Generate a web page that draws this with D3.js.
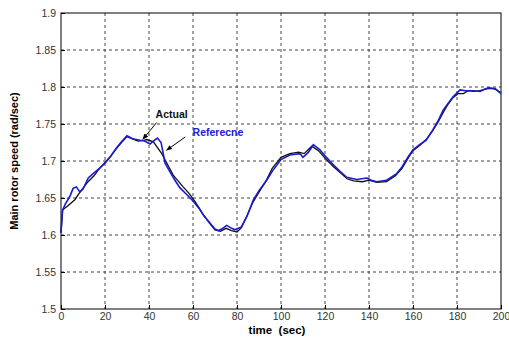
<!DOCTYPE html>
<html>
<head>
<meta charset="utf-8">
<script src="https://cdn.jsdelivr.net/npm/d3@7"></script>
<style>
  body { margin: 0; background: #fff; }
  svg { display: block; font-family: "Liberation Sans", Arial, sans-serif; }
</style>
</head>
<body>
<div id="chart"></div>
<script>
// --- data ---
var xTicks = [0, 20, 40, 60, 80, 100, 120, 140, 160, 180, 200];
var yTicks = [1.5, 1.55, 1.6, 1.65, 1.7, 1.75, 1.8, 1.85, 1.9];
var yTickLabels = ["1.5", "1.55", "1.6", "1.65", "1.7", "1.75", "1.8", "1.85", "1.9"];

// reference (blue)
var refTime = [0, 0.6, 2, 4, 5.5, 7, 8.6, 10, 12.4, 15, 17.5, 20, 22.5, 25, 27.5, 30, 32.5, 36, 38, 40.5,
  42, 43.8, 45.5, 47.3, 50, 52, 54, 57, 60, 62.5, 64.7, 67.5, 70, 71.5, 73, 75.3, 77, 79, 82, 84.5,
  87.4, 90, 93.5, 96, 100, 104, 108.6, 110, 112.5, 114.7, 117.7, 120, 123.8, 126.8, 129.9, 134.4, 139, 141, 143.5, 148,
  152.6, 155, 157.9, 160, 163, 166, 169, 171.5, 173.8, 176, 178.3, 181.4, 184, 187.4, 190.5, 192.5, 194.2, 197.3, 200];
var refSpeed = [1.603, 1.633, 1.642, 1.652, 1.663, 1.665, 1.658, 1.662, 1.677, 1.684, 1.69, 1.697, 1.706, 1.717, 1.726, 1.734, 1.73, 1.728, 1.727, 1.723,
  1.727, 1.731, 1.725, 1.697, 1.683, 1.673, 1.664, 1.655, 1.646, 1.637, 1.627, 1.617, 1.608, 1.606, 1.608, 1.613, 1.61, 1.607, 1.611, 1.625,
  1.647, 1.66, 1.674, 1.686, 1.702, 1.708, 1.71, 1.705, 1.712, 1.722, 1.715, 1.707, 1.695, 1.686, 1.678, 1.675, 1.677, 1.674, 1.672, 1.674,
  1.683, 1.692, 1.706, 1.715, 1.722, 1.728, 1.742, 1.755, 1.769, 1.778, 1.787, 1.796, 1.795, 1.795, 1.794, 1.797, 1.799, 1.798, 1.791];

// actual (black)
var actTime = [0, 0.8, 3.3, 6.4, 8.6, 12.3, 15, 17.5, 20, 22.5, 25, 27.5, 30, 32.5, 35, 37.6, 39, 42, 45.8, 48.5,
  51, 55.5, 58, 60, 62.5, 65, 67.5, 70, 72.5, 75, 77.5, 80, 82, 84.4, 87, 90, 93, 96, 100, 104,
  108, 110.5, 114, 117, 120, 124, 127, 130, 133, 137, 140, 143.5, 148, 152, 155, 158, 160, 163, 166, 169,
  171.5, 173.8, 176, 178.3, 180.5, 182.9, 185, 187.4, 190.5, 193, 195, 197.3, 200];
var actSpeed = [1.603, 1.634, 1.64, 1.648, 1.658, 1.672, 1.68, 1.69, 1.698, 1.706, 1.716, 1.725, 1.733, 1.73, 1.727, 1.728, 1.729, 1.726, 1.71, 1.695,
  1.681, 1.665, 1.657, 1.649, 1.638, 1.626, 1.616, 1.607, 1.605, 1.609, 1.606, 1.604, 1.61, 1.625, 1.643, 1.658, 1.672, 1.69, 1.705, 1.71,
  1.712, 1.71, 1.72, 1.714, 1.704, 1.692, 1.684, 1.676, 1.673, 1.672, 1.674, 1.671, 1.672, 1.68, 1.69, 1.705, 1.714, 1.721, 1.729, 1.741,
  1.753, 1.766, 1.777, 1.786, 1.791, 1.791, 1.795, 1.794, 1.795, 1.797, 1.798, 1.797, 1.792];

// --- layout ---
var width = 509;
var height = 339;
var margin = ({top: 13, right: 8, bottom: 30, left: 61});

var x = d3.scaleLinear().domain([0, 200]).range([margin.left, width - margin.right]);
var y = d3.scaleLinear().domain([1.5, 1.9]).range([height - margin.bottom, margin.top]);

var svg = d3.select("#chart").append("svg")
  .attr("width", width).attr("height", height);

svg.append("rect").attr("width", width).attr("height", height).attr("fill", "#fff");

// dashed grid (interior only)
svg.append("g").selectAll("line").data(xTicks.slice(1, -1)).join("line")
  .attr("x1", d => x(d)).attr("x2", d => x(d))
  .attr("y1", y(1.9)).attr("y2", y(1.5))
  .attr("stroke", "#444").attr("stroke-dasharray", "3,3");
svg.append("g").selectAll("line").data(yTicks.slice(1, -1)).join("line")
  .attr("y1", d => y(d)).attr("y2", d => y(d))
  .attr("x1", x(0)).attr("x2", x(200))
  .attr("stroke", "#444").attr("stroke-dasharray", "3,3");

// axes: matlab style, ticks inward
var xAxis = g => g
  .attr("transform", "translate(0," + (height - margin.bottom) + ")")
  .call(d3.axisBottom(x).tickValues(xTicks).tickSize(-4).tickPadding(4).tickSizeOuter(0))
  .call(g => g.select(".domain").remove());
var yAxis = g => g
  .attr("transform", "translate(" + margin.left + ",0)")
  .call(d3.axisLeft(y).tickValues(yTicks).tickSize(-4).tickPadding(5).tickSizeOuter(0)
    .tickFormat((d, i) => yTickLabels[i]))
  .call(g => g.select(".domain").remove());

svg.append("g").call(xAxis);
svg.append("g").call(yAxis);
svg.selectAll(".tick text").attr("font-size", 10.5).attr("fill", "#333")
  .attr("font-family", "'Liberation Sans', Arial, sans-serif");

// box
svg.append("rect")
  .attr("x", x(0)).attr("y", y(1.9))
  .attr("width", x(200) - x(0)).attr("height", y(1.5) - y(1.9))
  .attr("fill", "none").attr("stroke", "#000").attr("stroke-width", 1);

// lines
var line = d3.line().x(d => x(d[0])).y(d => y(d[1]));
var actData = actTime.map((t, i) => [t, actSpeed[i]]);
var refData = refTime.map((t, i) => [t, refSpeed[i]]);

svg.append("path").datum(actData).attr("d", line)
  .attr("fill", "none").attr("stroke", "#111").attr("stroke-width", 1.3);
svg.append("path").datum(refData).attr("d", line)
  .attr("fill", "none").attr("stroke", "#1a1ad0").attr("stroke-width", 1.6);

// annotations with arrows
svg.append("defs").append("marker")
  .attr("id", "arrow").attr("viewBox", "0 0 10 10")
  .attr("refX", 9).attr("refY", 5)
  .attr("markerWidth", 6).attr("markerHeight", 6)
  .attr("orient", "auto")
  .append("path").attr("d", "M0,1 L10,5 L0,9 z").attr("fill", "#000");

svg.append("text").attr("x", x(43)).attr("y", y(1.7575))
  .attr("font-size", 10.5).attr("font-weight", "bold").attr("fill", "#111")
  .text("Actual");
svg.append("line")
  .attr("x1", x(43.5)).attr("y1", y(1.752))
  .attr("x2", x(37.2)).attr("y2", y(1.7295))
  .attr("stroke", "#000").attr("marker-end", "url(#arrow)");

svg.append("text").attr("x", x(59.8)).attr("y", y(1.7335))
  .attr("font-size", 10.5).attr("font-weight", "bold").attr("fill", "#1a1ad0")
  .text("Referecne");
svg.append("line")
  .attr("x1", x(56.5)).attr("y1", y(1.7325))
  .attr("x2", x(48)).attr("y2", y(1.7145))
  .attr("stroke", "#000").attr("marker-end", "url(#arrow)");

// axis titles
svg.append("text").attr("x", 277).attr("y", 334)
  .attr("text-anchor", "middle").attr("font-size", 11.5).attr("font-weight", "bold")
  .attr("xml:space", "preserve")
  .text("time  (sec)");
svg.append("text")
  .attr("transform", "translate(18,161) rotate(-90)")
  .attr("text-anchor", "middle").attr("font-size", 11).attr("font-weight", "bold")
  .text("Main rotor speed (rad/sec)");
</script>
</body>
</html>
